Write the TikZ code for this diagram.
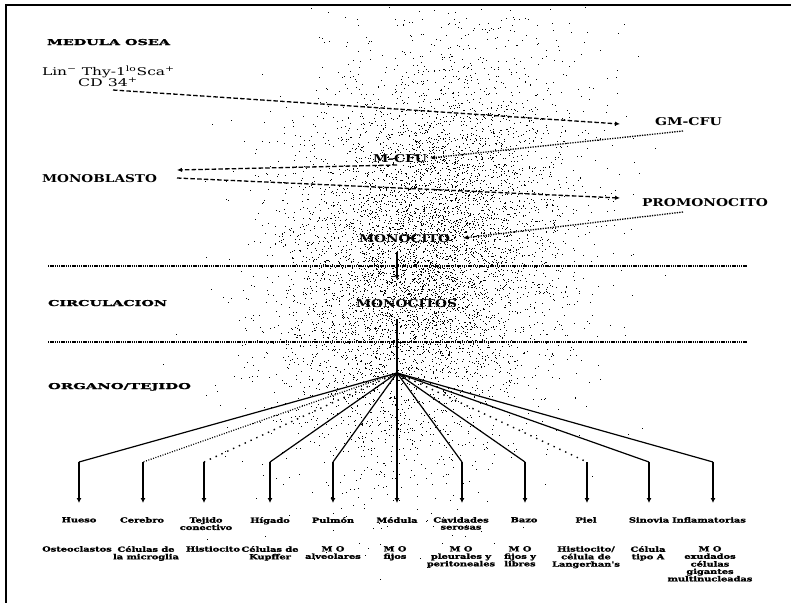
\documentclass[tikz,border=0pt]{standalone}
\usepackage{fontspec}
\setmainfont{DejaVu Serif}
\newfontfamily\heavyfont[FakeBold=1.5]{DejaVu Serif}
\usepackage{graphicx}
\usetikzlibrary{arrows.meta}
\newcommand{\fitt}[3]{\resizebox{#1pt}{#2pt}{#3}}
\newcommand{\sxl}[1]{\scalebox{1.4}[1]{\begin{tabular}{@{}c@{}}#1\end{tabular}}}
\begin{document}
\begin{tikzpicture}[x=1pt,y=-1pt,
  txt/.style={inner sep=0pt, outer sep=0pt, anchor=base west, font=\bfseries},
  sect/.style={inner sep=0pt, outer sep=0pt, anchor=base west, font=\heavyfont\bfseries},
  lbl/.style={inner sep=0pt, anchor=north, font=\heavyfont\bfseries\fontsize{7}{7}\selectfont},
  dsh/.style={line width=1.3pt, dash pattern=on 4.5pt off 2.2pt, -{Latex[length=5pt,width=4.5pt]}},
  dtt/.style={line width=1.3pt, dash pattern=on 1.3pt off 1.2pt, -{Latex[length=5pt,width=4.5pt]}},
  sep/.style={line width=1.1pt, dash pattern=on 1.3pt off 0.9pt},
  fan/.style={line width=1.2pt},
  fandot/.style={line width=1.2pt, dash pattern=on 1pt off 1.5pt},
  fanloose/.style={line width=1.4pt, dash pattern=on 1.4pt off 5pt},
  drop/.style={line width=1.2pt, -{Latex[length=5pt,width=5pt]}},
]
\useasboundingbox (0,0) rectangle (791,603);
% stipple cloud
\begin{scope}
\clip (8,7) rectangle (785,600);
\pgfmathsetseed{42}
\foreach \i in {1,...,7000}{
  \pgfmathsetmacro{\ua}{0.0005+0.999*rnd}
  \pgfmathsetmacro{\ub}{rnd}
  \pgfmathsetmacro{\rr}{sqrt(-2*ln(\ua))}
  \pgfmathsetmacro{\gy}{255+100*\rr*cos(360*\ub)}
  \pgfmathsetmacro{\gx}{425+0.15*(255-\gy)+70*\rr*sin(360*\ub)}
  \fill[black] (\gx,\gy) rectangle ++(0.8,0.8);
}
\end{scope}
% frame
\draw[line width=1.4pt] (791,5) -- (6,5) -- (6,603);
% texts
\node[sect] (medula) at (47,45) {\fitt{123}{6}{MEDULA OSEA}};
\node[txt,font=] (lin) at (42,75) {\fitt{133}{9.5}{Lin\textsuperscript{−} Thy-1\textsuperscript{lo}Sca\textsuperscript{+}}};
\node[txt,font=] (cd) at (78,86) {\fitt{60}{8.5}{CD 34\textsuperscript{+}}};
\node[txt] (gm) at (655,125) {\fitt{67}{8}{GM-CFU}};
\node[txt] (mcfu) at (373,162) {\fitt{54}{8}{M-CFU}};
\node[txt] (mb) at (42,182) {\fitt{115}{8}{MONOBLASTO}};
\node[txt] (pm) at (642,206) {\fitt{126}{8}{PROMONOCITO}};
\node[txt] (mc) at (359,242) {\fitt{91}{8}{MONOCITO}};
\node[sect] (circ) at (48,306) {\fitt{119}{6}{CIRCULACION}};
\node[txt] (mcs) at (356,307) {\fitt{101}{8}{MONOCITOS}};
\node[sect] (org) at (48,389) {\fitt{143}{6}{ORGANO/TEJIDO}};
% connector end points
\coordinate (a0) at (113,90);  \coordinate (a1) at (620,124);
\coordinate (b0) at (683,131); \coordinate (b1) at (430,158);
\coordinate (c0) at (397,165); \coordinate (c1) at (177,170);
\coordinate (d0) at (177,178); \coordinate (d1) at (620,198);
\coordinate (e0) at (683,212); \coordinate (e1) at (463,238);
\coordinate (f0) at (397,252); \coordinate (f1) at (397,280);
\coordinate (s1l) at (48,266); \coordinate (s1r) at (747,266);
\coordinate (s2l) at (48,342); \coordinate (s2r) at (747,342);
\coordinate (m0) at (397,319);
\coordinate (hub) at (397,373);
\draw[dsh] (a0) -- (a1);
\draw[dtt] (b0) -- (b1);
\draw[dsh] (c0) -- (c1);
\draw[dsh] (d0) -- (d1);
\draw[dtt] (e0) -- (e1);
\draw[drop] (f0) -- (f1);
\draw[sep] (s1l) -- (s1r);
\draw[sep] (s2l) -- (s2r);
\draw[fan] (m0) -- (hub);
\foreach \bx/\st in {79/fan,143/fandot,204/fanloose,270/fan,333/fan,462/fan,525/fan,587/fanloose,649/fan,713/fan}{
  \coordinate (b\bx) at (\bx,462);
  \coordinate (t\bx) at (\bx,503);
  \draw[\st] (hub) -- (b\bx);
  \draw[drop] (b\bx) -- (t\bx);
}
\coordinate (t397) at (397,503);
\draw[drop] (hub) -- (t397);
% organ labels
\node[lbl] (l1) at (79,517) {\sxl{Hueso}};
\node[lbl] (l2) at (142,517) {\sxl{Cerebro}};
\node[lbl] (l3) at (206,517) {\sxl{Tejido\\conectivo}};
\node[lbl] (l4) at (270,517) {\sxl{Hígado}};
\node[lbl] (l5) at (333,517) {\sxl{Pulmón}};
\node[lbl] (l6) at (397,517) {\sxl{Médula}};
\node[lbl] (l7) at (461,517) {\sxl{Cavidades\\serosas}};
\node[lbl] (l8) at (524,517) {\sxl{Bazo}};
\node[lbl] (l9) at (586,517) {\sxl{Piel}};
\node[lbl] (l10) at (649,517) {\sxl{Sinovia}};
\node[lbl] (l11) at (709,517) {\sxl{Inflamatorias}};
% cell labels
\node[lbl] (c1n) at (77,546) {\sxl{Osteoclastos}};
\node[lbl] (c2n) at (146,546) {\sxl{Células de\\la microglia}};
\node[lbl] (c3n) at (213,546) {\sxl{Histiocito}};
\node[lbl] (c4n) at (270,546) {\sxl{Células de\\Kupffer}};
\node[lbl] (c5n) at (333,546) {\sxl{M O\\alveolares}};
\node[lbl] (c6n) at (395,546) {\sxl{M O\\fijos}};
\node[lbl] (c7n) at (461,546) {\sxl{M O\\pleurales y\\peritoneales}};
\node[lbl] (c8n) at (520,546) {\sxl{M O\\fijos y\\libres}};
\node[lbl] (c9n) at (586,546) {\sxl{Histiocito/\\célula de\\Langerhan's}};
\node[lbl] (c10n) at (648,546) {\sxl{Célula\\tipo A}};
\node[lbl] (c11n) at (710,546) {\sxl{M O\\exudados\\células\\gigantes\\multinucleadas}};
\end{tikzpicture}
\end{document}
